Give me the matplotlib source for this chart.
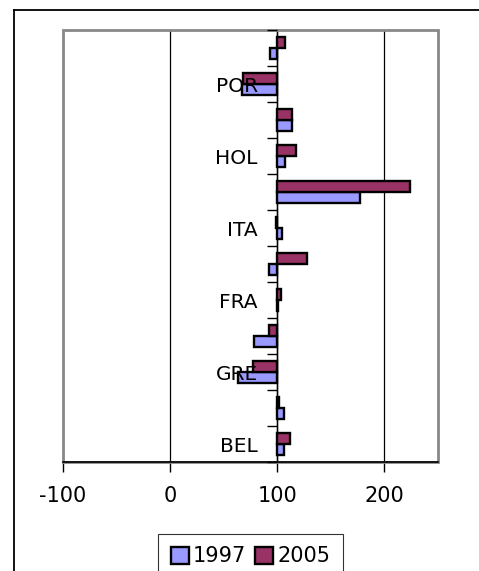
import matplotlib
matplotlib.use("Agg")
import matplotlib.pyplot as plt
import matplotlib.patches as mpatches
import matplotlib.lines as mlines
import numpy as np

# Kategorien von unten nach oben (nur jede zweite Beschriftung ist sichtbar)
laender = ["BEL", "DIN", "GRE", "ESP", "FRA", "IRL", "ITA", "LUX", "HOL", "AUT", "POR", "FIN"]
sichtbar = [True, False, True, False, True, False, True, False, True, False, True, False]
werte1997 = [106, 106.5, 63, 78.5, 101, 92, 104.5, 177.5, 107.5, 114, 67, 93.5]
werte2005 = [111.5, 102, 77, 92, 103.5, 127.5, 99, 223.5, 117, 114, 68, 107.5]
basis = 100
xticks = [-100, 0, 100, 200]

farbe1997 = "#9999FF"
farbe2005 = "#993366"

fig = plt.figure(figsize=(4.79, 5.71), dpi=100)
ax = fig.add_axes([63 / 479, 1 - 462 / 571, 375 / 479, 432 / 571])

y = np.arange(len(laender))
h = 0.31
ax.barh(y - h / 2, np.array(werte1997) - basis, left=basis, height=h,
        color=farbe1997, edgecolor="black", linewidth=1.7, label="1997", zorder=3)
ax.barh(y + h / 2, np.array(werte2005) - basis, left=basis, height=h,
        color=farbe2005, edgecolor="black", linewidth=1.7, label="2005", zorder=3)

ax.set_xlim(-100, 250)
ax.set_ylim(-0.5, len(laender) - 0.5)

# x-Achse
ax.set_xticks(xticks)
ax.set_xticklabels([str(t) for t in xticks], fontsize=15)
ax.tick_params(axis="x", direction="out", length=7, width=1, pad=10, color="black")
for t in xticks[1:]:
    ax.axvline(t, color="black", linewidth=0.9, zorder=1)

# y-Achse liegt bei 100, Beschriftung ueber den Balken
ax.spines["left"].set_position(("data", basis))
ax.spines["left"].set_linewidth(1)
ax.spines["right"].set_visible(False)
ax.spines["top"].set_visible(False)
ax.spines["bottom"].set_linewidth(1.2)
ax.set_yticks(y)
ax.set_yticklabels([l if s else "" for l, s in zip(laender, sichtbar)], fontsize=14.5)
ax.set_yticks(np.arange(len(laender) + 1) - 0.5, minor=True)
ax.tick_params(axis="y", which="major", length=0, pad=14)
ax.tick_params(axis="y", which="minor", direction="out", length=7, width=1)
ax.yaxis.set_zorder(6)

# grauer Rahmen der Zeichenflaeche
ax.add_patch(mpatches.Rectangle((0, 0), 1, 1, transform=ax.transAxes, fill=False,
                                edgecolor="#888888", linewidth=2, zorder=4, clip_on=False))
ax.spines["bottom"].set_zorder(5)

# aeusserer Diagrammrahmen (rechts/unten abgeschnitten)
oben = 1 - 9.5 / 571
links = 13.5 / 479
fig.add_artist(mlines.Line2D([links, links], [0, oben], transform=fig.transFigure,
                             color="black", linewidth=1.3))
fig.add_artist(mlines.Line2D([links, 1], [oben, oben], transform=fig.transFigure,
                             color="black", linewidth=1.3))

leg = fig.legend(loc="upper center", bbox_to_anchor=(0.523, 1 - 534 / 571), ncol=2,
                 fontsize=15, frameon=True, fancybox=False, edgecolor="black",
                 handlelength=0.85, handleheight=0.85, handletextpad=0.2,
                 columnspacing=0.45, borderpad=0.6, borderaxespad=0)
leg.get_frame().set_linewidth(0.8)

fig.savefig("out.png", dpi=100)
